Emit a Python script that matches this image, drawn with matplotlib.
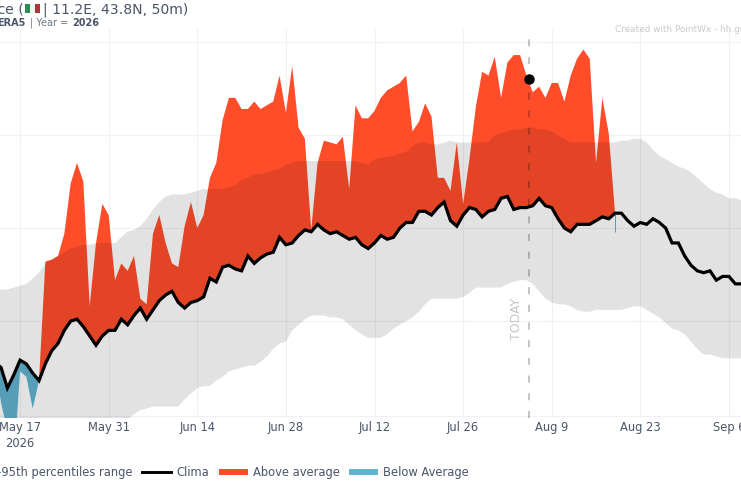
import pandas as pd
import numpy as np
import matplotlib
matplotlib.use("Agg")
import matplotlib.pyplot as plt
from matplotlib.lines import Line2D
from matplotlib.patches import Rectangle

start_date = "2026-05-13"
clima = [17.8,17.5,16.4,17.1,17.9,17.7,17.2,16.8,17.7,18.4,18.8,19.5,20.0,20.1,19.7,19.2,18.7,19.2,19.5,19.5,20.1,
         19.8,20.3,20.7,20.1,20.6,21.1,21.4,21.6,21.0,20.7,21.0,21.1,21.3,22.3,22.1,22.9,23.0,22.8,22.7,23.5,23.1,
         23.4,23.6,23.7,24.5,24.1,24.2,24.6,24.9,24.8,25.2,24.9,24.7,24.8,24.6,24.4,24.5,24.1,23.9,24.2,24.6,24.4,
         24.5,25.0,25.3,25.3,25.9,25.9,25.7,26.1,26.4,25.4,25.1,25.7,26.1,26.0,25.6,25.9,26.0,26.6,26.7,26.0,26.1,
         26.1,26.2,26.6,26.2,26.1,25.5,25.0,24.8,25.2,25.2,25.2,25.4,25.6,25.5,25.8,25.8,25.4,25.1,25.3,25.2,25.5,
         25.3,25.0,24.2,24.2,23.5,23.0,22.7,22.6,22.7,22.2,22.4,22.4,22.0,22.0]
p95 = [21.6,21.7,21.7,21.8,21.9,22.0,22.3,22.6,23.1,23.3,23.5,23.7,23.9,24.0,24.1,24.1,24.2,24.2,24.2,24.2,24.5,
       24.8,24.9,25.1,25.5,26.0,26.4,26.7,26.8,26.8,26.8,26.9,27.0,27.1,27.1,27.1,27.1,27.2,27.3,27.6,27.7,27.9,
       27.9,28.0,28.1,28.2,28.4,28.5,28.6,28.6,28.6,28.6,28.6,28.6,28.6,28.6,28.6,28.6,28.5,28.4,28.7,28.8,28.8,
       28.9,29.0,29.1,29.4,29.6,29.6,29.5,29.5,29.6,29.7,29.6,29.6,29.6,29.6,29.6,29.6,30.0,30.1,30.2,30.3,30.3,
       30.4,30.4,30.3,30.3,30.2,30.0,29.8,29.6,29.6,29.6,29.6,29.6,29.6,29.6,29.6,29.7,29.7,29.8,29.8,29.6,29.2,
       28.9,28.7,28.5,28.3,28.2,28.0,27.7,27.4,27.1,26.9,26.8,26.6,26.6,26.5]
p05 = [13.6,13.6,13.7,13.7,13.7,13.8,13.8,13.8,13.9,13.9,14.0,14.0,14.1,14.1,14.2,14.2,14.3,14.3,14.4,14.5,14.6,
       14.7,15.0,15.2,15.3,15.4,15.4,15.4,15.4,15.4,15.8,16.1,16.4,16.5,16.5,16.8,17.0,17.3,17.4,17.5,17.6,17.6,
       17.8,18.1,18.5,18.8,18.9,19.5,19.8,20.1,20.3,20.3,20.3,20.2,20.2,20.1,19.8,19.5,19.3,19.1,19.1,19.1,19.3,
       19.6,19.8,20.0,20.2,20.5,20.9,21.2,21.2,21.2,21.2,21.2,21.3,21.5,21.8,21.8,21.8,21.8,21.8,22.0,22.1,22.2,
       22.2,22.0,21.6,21.2,21.0,20.9,20.9,20.8,20.6,20.5,20.5,20.6,20.6,20.6,20.6,20.6,20.7,20.8,20.8,20.6,20.4,
       20.2,19.9,19.6,19.5,19.3,18.9,18.5,18.2,18.2,18.1,18.0,18.0,18.0,18.0]
observed = [17.8,15.6,14.1,12.2,17.3,17.0,15.3,16.8,23.2,23.3,23.5,24.7,27.4,28.5,27.5,20.8,24.2,26.3,25.7,22.2,23.1,
            22.7,23.5,21.2,20.9,24.7,25.7,24.2,23.1,22.9,25.1,26.4,25.0,25.7,27.7,28.5,30.8,32.0,32.0,31.4,31.4,31.8,
            31.4,31.6,31.8,33.2,31.2,33.7,30.4,29.8,24.9,28.5,29.7,29.6,29.5,29.9,27.1,31.6,30.9,30.9,31.3,32.0,32.4,
            32.6,32.8,33.2,30.2,30.7,31.7,31.0,27.7,27.7,27.0,29.6,26.3,28.7,31.5,33.4,33.2,34.2,32.0,33.9,34.3,34.3,
            33.2,32.3,32.6,32.0,32.8,32.8,31.8,33.2,34.1,34.6,34.1,28.5,32.0,30.1,25.8]
today = "2026-08-05 09:36"
today_value = 33.0
last_obs_low = 24.8
tick_dates = ["2026-05-17","2026-05-31","2026-06-14","2026-06-28","2026-07-12","2026-07-26","2026-08-09","2026-08-23","2026-09-06"]
tick_labels = ["May 17\n2026","May 31","Jun 14","Jun 28","Jul 12","Jul 26","Aug 9","Aug 23","Sep 6"]
y_grid = [14.9,20,25,30,35]

TXT = "#4a5568"
RED = "#ff4d2a"
BLUE = "#62b3cf"

dates = pd.date_range(start_date, periods=len(clima))
clima_a = np.array(clima)
obs_a = np.array(observed + [np.nan]*(len(clima)-len(observed)))

plt.rcParams['font.family'] = ['DejaVu Sans']
fig = plt.figure(figsize=(7.41,4.86), dpi=100)
ax = fig.add_axes([0, 68/486, 1, 389/486])
ax.set_xlim(dates[0]+pd.Timedelta(hours=20), dates[0]+pd.Timedelta(days=4+113.9))
ax.set_ylim(14.79,35.7)
for s in ax.spines.values():
    s.set_visible(False)
ax.set_axisbelow(True)
ax.grid(True,color="#f0f1f6",lw=0.8)
ax.set_yticks(y_grid)
ax.tick_params(axis='y',left=False,labelleft=False)
ax.set_xticks(pd.to_datetime(tick_dates))
ax.set_xticklabels(tick_labels,fontsize=8.3,color=TXT,linespacing=1.3)
ax.tick_params(axis='x',length=0,pad=2)

valid = ~np.isnan(obs_a)
ax.fill_between(dates[valid],clima_a[valid],obs_a[valid],where=obs_a[valid]>=clima_a[valid],interpolate=True,color=RED,lw=0,zorder=2)
ax.fill_between(dates[valid],clima_a[valid],obs_a[valid],where=obs_a[valid]<=clima_a[valid],interpolate=True,color=BLUE,lw=0,zorder=2)
last = np.where(valid)[0][-1]
ax.vlines(dates[last],last_obs_low,clima_a[last],color=BLUE,lw=0.7,zorder=2)
ax.fill_between(dates,p05,p95,color="black",alpha=0.115,lw=0,zorder=3)
ax.plot(dates,clima_a,color="black",lw=2.3,zorder=4,solid_joinstyle='miter')
ax.axvline(pd.Timestamp(today),color="black",alpha=0.25,lw=1.3,dashes=(3.9,5.9),zorder=5)
ax.plot([pd.Timestamp(today)],[today_value],'o',color="black",ms=6.5,zorder=6,clip_on=False)
ax.text(pd.Timestamp(today)-pd.Timedelta(days=2),19.0,"TODAY",rotation=90,ha='center',va='bottom',fontsize=9,color="#c6c6c6",zorder=6)

def ftext(x,y,s,**k):
    return fig.text(x/741,1-y/486,s,va='center',**k)

ftext(24,9.5,"Florence (",ha='right',fontsize=10.1,color=TXT)
for x0,w,c in [(25,5,"#2e8b57"),(30,5,"#f4f4f4"),(35,5,"#b0343c")]:
    fig.add_artist(Rectangle((x0/741,1-13.5/486),w/741,9.5/486,transform=fig.transFigure,color=c,lw=0))
ftext(43,9.5,"| 11.2E, 43.8N, 50m)",ha='left',fontsize=10.1,color=TXT)
ftext(25,23,"ERA5",ha='right',fontsize=7,color=TXT,fontweight='bold')
ftext(30,23,"| Year =",ha='left',fontsize=7,color="#6b7686")
ftext(72,23,"2026",ha='left',fontsize=7,color=TXT,fontweight='bold')
ftext(615,29,"Created with PointWx - hh.gu",ha='left',fontsize=6.4,color="#c9c9c9")

ly = 472
ftext(132,ly,"5th-95th percentiles range",ha='right',fontsize=8.3,color=TXT)
fig.add_artist(Line2D([142/741,171/741],[1-ly/486]*2,color="black",lw=2.1,transform=fig.transFigure))
ftext(176,ly,"Clima",ha='left',fontsize=8.3,color=TXT)
fig.add_artist(Rectangle((219/741,1-(ly+3)/486),29/741,6/486,color=RED,lw=0,transform=fig.transFigure))
ftext(253,ly,"Above average",ha='left',fontsize=8.3,color=TXT)
fig.add_artist(Rectangle((349/741,1-(ly+3)/486),29/741,6/486,color=BLUE,lw=0,transform=fig.transFigure))
ftext(383,ly,"Below Average",ha='left',fontsize=8.3,color=TXT)

fig.savefig("out.png",dpi=100)
